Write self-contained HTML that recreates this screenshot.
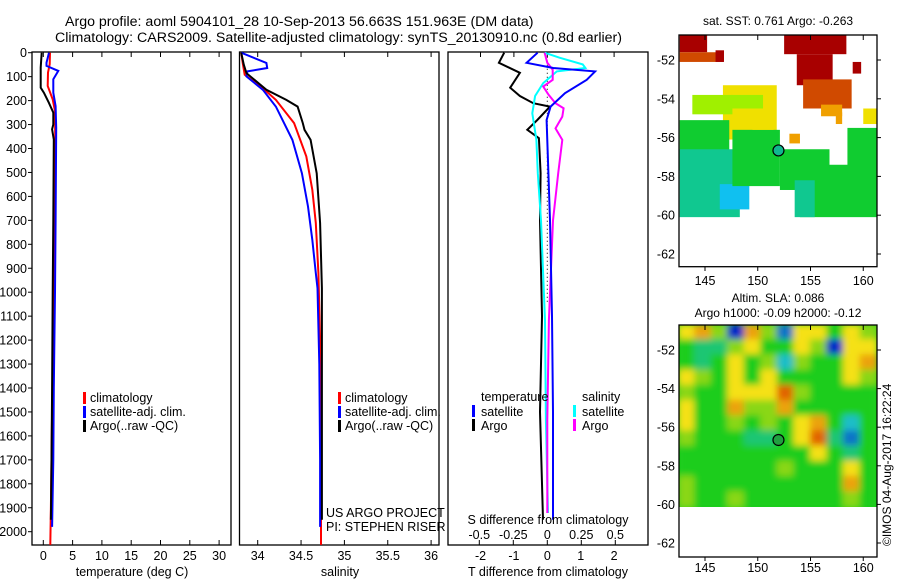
<!DOCTYPE html>
<html><head><meta charset="utf-8"><style>
html,body{margin:0;padding:0;background:#fff}
svg{display:block;font-family:"Liberation Sans",Arial,sans-serif}
</style></head><body>
<svg id="c" width="900" height="580" xmlns="http://www.w3.org/2000/svg">
<defs>
<filter id="blur" x="-5%" y="-5%" width="110%" height="110%"><feGaussianBlur stdDeviation="3.5"/></filter>
<clipPath id="clipTop"><rect x="679" y="35" width="198" height="231"/></clipPath>
<clipPath id="clipBot"><rect x="679" y="325" width="198" height="182"/></clipPath>
</defs>
<text x="65" y="26" font-size="14.2" text-anchor="start">Argo profile: aoml 5904101_28 10-Sep-2013 56.663S 151.963E (DM data)</text>
<text x="55" y="42" font-size="14.2" text-anchor="start">Climatology: CARS2009. Satellite-adjusted climatology: synTS_20130910.nc (0.8d earlier)</text>
<g id="g"></g>
</svg>
<script>
// ---------- data ----------
const tempDepthClim=[0,48,83,139,195,244,400,700,1000,1300,1600,1900,2055];
const tempClim=[1.14,1.1,0.8,0.75,1.6,2.0,2.05,1.95,1.8,1.6,1.45,1.3,1.2];
const tempDepthSat=[0,42,55,76,111,167,223,313,700,1000,1400,1700,1980];
const tempSat=[0.97,0.55,0.55,2.56,1.7,1.7,2.1,2.2,2.1,2.0,1.8,1.7,1.5];
const tempDepthArgo=[0,62,146,167,209,250,300,320,335,362,700,1000,1400,1700,1950];
const tempArgo=[-0.28,-0.45,-0.45,0.1,0.95,1.7,1.7,1.5,1.6,1.8,1.7,1.6,1.5,1.4,1.3];

const salDepthClim=[0,50,92,155,197,294,433,572,711,920,1200,1600,2055];
const salClim=[33.81,33.83,33.85,34.08,34.21,34.42,34.56,34.63,34.67,34.70,34.72,34.73,34.73];
const salDepthSat=[0,43,64,78,99,155,225,364,503,642,781,920,983,1300,1700,1980];
const salSat=[33.81,34.10,34.11,33.88,33.87,34.06,34.21,34.40,34.51,34.58,34.63,34.67,34.69,34.71,34.72,34.72];
const salDepthArgo=[0,50,85,155,197,225,294,322,364,503,711,983,1400,1950];
const salArgo=[33.81,33.84,33.87,34.10,34.33,34.46,34.52,34.54,34.61,34.68,34.72,34.74,34.74,34.74];

const dTDepthArgo=[0,42,84,146,181,211,225,281,322,357,503,700,1100,1500,1950];
const dTArgo=[-1.29,-1.45,-0.82,-1.11,-0.82,-0.42,0.08,-0.30,-0.6,-0.25,-0.2,-0.22,-0.16,-0.22,-0.13];
const dTDepthSat=[0,42,64,78,113,169,225,281,700,1100,1500,1950];
const dTSat=[-0.29,-0.62,0.18,1.43,1.18,0.53,0.1,-0.02,0.08,0.14,0.17,0.17];
const dSDepthSat=[0,21,49,64,78,127,181,253,364,503,700,1117,1534,1922];
const dSSat=[-0.02,0.09,0.26,0.28,0.07,-0.03,-0.09,-0.11,-0.08,-0.07,-0.046,-0.017,-0.01,0.005];
const dSDepthArgo=[0,42,71,113,141,176,211,232,267,316,364,503,700,1117,1534,1922];
const dSArgo=[-0.02,0,0.04,0.04,-0.03,0.01,0.06,0.12,0.11,0.06,0.11,0.08,0.042,0.012,0,0];

const depthTicks=[0,100,200,300,400,500,600,700,800,900,1000,1100,1200,1300,1400,1500,1600,1700,1800,1900,2000];
const tempTicks=[0,5,10,15,20,25,30];
const salTicks=[34,34.5,35,35.5,36];
const dTTicks=[-2,-1,0,1,2];
const dSTicks=[-0.5,-0.25,0,0.25,0.5];
const lonTicks=[145,150,155,160];
const latTicks=[-52,-54,-56,-58,-60,-62];

// top map (SST) patches: lon0, lon1, lat0, lat1, class
const sstLon0=[142.6,142.6,146.0,152.5,153.7,154.3,159.0,146.7,143.8,142.6,148.3,142.6,146.4,147.6,152.1,154.0,153.5,158.5,153.0,157.4,147.5,149.5,156.0,160.0];
const sstLon1=[145.2,146.7,146.8,158.4,157.1,158.9,159.8,151.8,147.6,147.3,151.0,148.3,149.2,152.1,156.8,161.3,155.4,161.3,154.0,158.0,150.5,151.5,158.0,161.3];
const sstLat0=[-50.7,-51.6,-51.5,-50.7,-51.7,-53.0,-52.1,-53.3,-53.8,-55.1,-55.3,-56.6,-58.4,-55.6,-56.6,-57.4,-58.2,-55.5,-55.8,-54.7,-53.8,-54.8,-54.3,-54.5];
const sstLat1=[-51.6,-52.1,-52.1,-51.7,-53.3,-54.5,-52.7,-56.1,-54.8,-57.7,-56.4,-60.1,-59.7,-58.5,-58.7,-60.1,-60.1,-57.8,-56.3,-55.3,-54.5,-55.6,-54.9,-55.3];
const sstClass=[6,5,6,6,6,5,6,3,2,1,3,0,-2,1,1,1,0,1,4,4,2,3,4,3];

// bottom map (SLA) grid rows (top to bottom), 12 x 12
const slaRows=[
[1,1.5,0.5,-2,1.5,0.5,-1.5,1,1,0,1,0.5],
[0,-0.5,-0.5,0.5,1,0,0,1,0.5,-2,1,1],
[0,-0.5,0,1,0,0.5,-1,0.5,0,0,1,1.5],
[1,0.5,0,1,0,1,0,0,0,0,1,0.5],
[0.5,0,0,1,1,1,2,0.5,0,0,0,0],
[1,0,0,1.5,0.5,0.5,1.5,0,0,0,0,0],
[1,0,0,0.5,0,0.5,0,1,1.5,0,-1,0],
[0.5,0,0,0,-0.5,-0.5,0,1,2,-0.5,-1.5,0],
[0,0,0,0,0,0,0,0,1,0,-0.5,0],
[0,0,0,0,0,0,0.5,0,0,0,1,0],
[0.5,0,0,0,0,0,0,0,0,0,1.5,0],
[0.5,0,0,0.5,0,0,0,0,0,0,0.5,0]];

const floatLon=[151.963];
const floatLat=[-56.663];

// ---------- scales ----------
const NS="http://www.w3.org/2000/svg";
const g=document.getElementById('g');
const yD=d=>52.7+d*0.2395;
const xT=t=>43.3+t*5.86;
const xS=s=>257.7+(s-34)*86.7;
const xDT=t=>547.3+t*33.4;
const xDS=s=>547.3+s*136;
const lonX=l=>705+(l-145)*10.55;
const latY1=l=>60+(-52-l)*19.4;
const latY2=l=>350+(-52-l)*19.3;

function el(tag,attrs,parent){const e=document.createElementNS(NS,tag);for(const k in attrs)e.setAttribute(k,attrs[k]);(parent||g).appendChild(e);return e;}
function txt(x,y,s,size,anchor,name){const t=el('text',{x:x,y:y,'font-size':size,'text-anchor':anchor||'start'});t.textContent=s;


return t;}
function line(depths,vals,xf,color,name,w){
  let d='';for(let i=0;i<depths.length;i++){d+=(i?'L':'M')+xf(vals[i]).toFixed(1)+','+yD(depths[i]).toFixed(1);}
  const p=el('path',{d:d,fill:'none',stroke:color,'stroke-width':w||2,'stroke-linejoin':'miter'});
  
  
}
function box(x0,y0,x1,y1,name){const r=el('rect',{x:x0,y:y0,width:x1-x0,height:y1-y0,fill:'none',stroke:'#000','stroke-width':1.3});

}
function legendMark(x,y,color,name){const r=el('rect',{x:x,y:y,width:3,height:12,fill:color});

}

// ---------- panel 1: temperature ----------
box(32,52,231,545,'temperature-panel');
depthTicks.forEach(d=>{el('line',{x1:28,x2:32,y1:yD(d),y2:yD(d),stroke:'#000'});txt(27,yD(d)+4.5,String(d),12.5,'end','depth-tick-label');});
tempTicks.forEach(t=>{el('line',{x1:xT(t),x2:xT(t),y1:52,y2:57,stroke:'#000'});el('line',{x1:xT(t),x2:xT(t),y1:540,y2:545,stroke:'#000'});txt(xT(t),560,String(t),12.5,'middle','temperature-tick-label');});
txt(132,576,'temperature (deg C)',12.5,'middle','temperature-axis-title');
line(tempDepthClim,tempClim,xT,'#ff0000','temperature-climatology-line');
line(tempDepthSat,tempSat,xT,'#0000ff','temperature-satellite-line');
line(tempDepthArgo,tempArgo,xT,'#000000','temperature-argo-line');
legendMark(83,392,'#ff0000','legend-climatology-marker');txt(90,402,'climatology',12.5,'start','legend-climatology');
legendMark(83,406,'#0000ff','legend-satellite-marker');txt(90,416,'satellite-adj. clim.',12.5,'start','legend-satellite');
legendMark(83,420,'#000000','legend-argo-marker');txt(90,430,'Argo(..raw -QC)',12.5,'start','legend-argo');

// ---------- panel 2: salinity ----------
box(239.5,52,439,545,'salinity-panel');
salTicks.forEach(s=>{el('line',{x1:xS(s),x2:xS(s),y1:52,y2:57,stroke:'#000'});el('line',{x1:xS(s),x2:xS(s),y1:540,y2:545,stroke:'#000'});txt(xS(s),560,String(s),12.5,'middle','salinity-tick-label');});
txt(340,576,'salinity',12.5,'middle','salinity-axis-title');
line(salDepthClim,salClim,xS,'#ff0000','salinity-climatology-line');
line(salDepthSat,salSat,xS,'#0000ff','salinity-satellite-line');
line(salDepthArgo,salArgo,xS,'#000000','salinity-argo-line');
legendMark(338,392,'#ff0000','legend2-climatology-marker');txt(345,402,'climatology',12.5,'start','legend2-climatology');
legendMark(338,406,'#0000ff','legend2-satellite-marker');txt(345,416,'satellite-adj. clim.',12.5,'start','legend2-satellite');
legendMark(338,420,'#000000','legend2-argo-marker');txt(345,430,'Argo(..raw -QC)',12.5,'start','legend2-argo');
txt(326,517,'US ARGO PROJECT',12.5,'start','project-label');
txt(326,531,'PI: STEPHEN RISER',12.5,'start','pi-label');

// ---------- panel 3: differences ----------
box(448,52,648,545,'difference-panel');
el('line',{x1:xDT(0),x2:xDT(0),y1:yD(0),y2:yD(1050),stroke:'#000','stroke-width':1,'stroke-dasharray':'1,3'});
dTTicks.forEach(t=>{el('line',{x1:xDT(t),x2:xDT(t),y1:52,y2:57,stroke:'#000'});txt(xDT(t),560,String(t),12.5,'middle','t-diff-tick-label');});
dSTicks.forEach(s=>{el('line',{x1:xDS(s),x2:xDS(s),y1:540,y2:545,stroke:'#000'});txt(xDS(s),539,String(s),12.5,'middle','s-diff-tick-label');});
line(dTDepthArgo,dTArgo,xDT,'#000000','t-diff-argo-line');
line(dSDepthSat,dSSat,xDS,'#00ffff','s-diff-satellite-line');
line(dSDepthArgo,dSArgo,xDS,'#ff00ff','s-diff-argo-line');
line(dTDepthSat,dTSat,xDT,'#0000ff','t-diff-satellite-line');
txt(548,524,'S difference from climatology',12.5,'middle','s-diff-axis-title');
txt(548,576,'T difference from climatology',12.5,'middle','t-diff-axis-title');
txt(481,401,'temperature',12.5,'start','legend3-temperature-header');
legendMark(472,405,'#0000ff','legend3-t-satellite-marker');txt(481,416,'satellite',12.5,'start','legend3-t-satellite');
legendMark(472,419,'#000000','legend3-t-argo-marker');txt(481,430,'Argo',12.5,'start','legend3-t-argo');
txt(582,401,'salinity',12.5,'start','legend3-salinity-header');
legendMark(573,405,'#00ffff','legend3-s-satellite-marker');txt(582,416,'satellite',12.5,'start','legend3-s-satellite');
legendMark(573,419,'#ff00ff','legend3-s-argo-marker');txt(582,430,'Argo',12.5,'start','legend3-s-argo');

// ---------- top map: SST ----------
txt(778,25,'sat. SST: 0.761 Argo: -0.263',12,'middle','sst-map-title');
const sstColors={6:'#a80000','5':'#d04a00','4':'#f0a000','3':'#f0e000','2':'#a0f000','1':'#10cc30','0':'#10c890','-1':'#10c8d0','-2':'#10c0f0'};
const tg=el('g',{'clip-path':'url(#clipTop)'});
for(let i=0;i<sstClass.length;i++){
  const x0=lonX(sstLon0[i]),x1=lonX(sstLon1[i]),y0=latY1(sstLat0[i]),y1=latY1(sstLat1[i]);
  const r=el('rect',{x:Math.min(x0,x1),y:Math.min(y0,y1),width:Math.abs(x1-x0),height:Math.abs(y1-y0),fill:sstColors[sstClass[i]]},tg);
  
  
}
box(679,35,877,266.7,'sst-map-frame');
lonTicks.forEach(l=>{el('line',{x1:lonX(l),x2:lonX(l),y1:35,y2:40,stroke:'#000'});el('line',{x1:lonX(l),x2:lonX(l),y1:266.7,y2:271,stroke:'#000'});txt(lonX(l),285,String(l),12.5,'middle','sst-lon-tick-label');});
latTicks.forEach(l=>{el('line',{x1:877,x2:881,y1:latY1(l),y2:latY1(l),stroke:'#000'});txt(675,latY1(l)+4.5,String(l),12.5,'end','sst-lat-tick-label');});
const c1=el('circle',{cx:lonX(floatLon[0]),cy:latY1(floatLat[0]),r:5.5,fill:'#10b890',stroke:'#000','stroke-width':1.2});



// ---------- bottom map: SLA ----------
txt(778,302,'Altim. SLA: 0.086',12,'middle','sla-map-title');
txt(778,317,'Argo h1000: -0.09 h2000: -0.12',12,'middle','sla-map-subtitle');
function slaColor(v){
  const stops=[[-2,[0,40,200]],[-1,[30,190,200]],[0,[30,205,30]],[1,[245,225,20]],[2,[225,100,0]]];
  v=Math.max(-2,Math.min(2,v));
  for(let i=0;i<stops.length-1;i++){if(v<=stops[i+1][0]){const f=(v-stops[i][0])/(stops[i+1][0]-stops[i][0]);const a=stops[i][1],b=stops[i+1][1];return 'rgb('+a.map((c,k)=>Math.round(c+(b[k]-c)*f)).join(',')+')';}}
}
const bgc=el('g',{'clip-path':'url(#clipBot)'});
el('rect',{x:679,y:325,width:198,height:182,fill:'#1ecd1e'},bgc);
const bg=el('g',{filter:'url(#blur)'},bgc);
const nR=slaRows.length,nC=slaRows[0].length,lonA=142.5,lonB=161.3,latA=-50.7,latB=-60.15;
for(let r=0;r<nR;r++)for(let c=0;c<nC;c++){
  const x0=lonX(lonA+(lonB-lonA)*c/nC)-1,x1=lonX(lonA+(lonB-lonA)*(c+1)/nC)+1;
  const y0=latY2(latA+(latB-latA)*r/nR)-1,y1=latY2(latA+(latB-latA)*(r+1)/nR)+1;
  const cell=el('rect',{x:x0,y:y0,width:x1-x0,height:y1-y0,fill:slaColor(slaRows[r][c])},bg);
  
  
}
box(679,325,877,557,'sla-map-frame');
lonTicks.forEach(l=>{el('line',{x1:lonX(l),x2:lonX(l),y1:325,y2:330,stroke:'#000'});el('line',{x1:lonX(l),x2:lonX(l),y1:557,y2:561,stroke:'#000'});txt(lonX(l),572,String(l),12.5,'middle','sla-lon-tick-label');});
latTicks.forEach(l=>{el('line',{x1:877,x2:881,y1:latY2(l),y2:latY2(l),stroke:'#000'});txt(675,latY2(l)+4.5,String(l),12.5,'end','sla-lat-tick-label');});
const c2=el('circle',{cx:lonX(floatLon[0]),cy:latY2(floatLat[0]),r:5.5,fill:'#20a040',stroke:'#000','stroke-width':1.2});


const stamp=txt(0,0,'\u00A9IMOS 04-Aug-2017 16:22:24',12,'start','timestamp-label');
stamp.setAttribute('transform','translate(891,546) rotate(-90)');
</script>
</body></html>
